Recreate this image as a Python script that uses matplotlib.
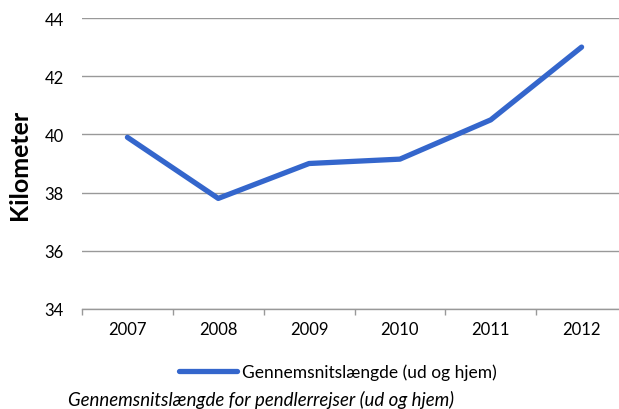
import matplotlib.pyplot as plt
import numpy as np

years = ['2007', '2008', '2009', '2010', '2011', '2012']
km = [39.9, 37.8, 39.0, 39.15, 40.5, 43.0]
yticks = [34, 36, 38, 40, 42, 44]

plt.rcParams['font.family'] = ['Lato', 'DejaVu Sans']

fig = plt.figure(figsize=(6.19, 4.10), dpi=100)
ax = fig.add_axes([82 / 619, 1 - 310 / 410, 545 / 619, 291 / 410])

x = np.arange(len(years))
line, = ax.plot(x, km, color='#3466CC', linewidth=3.8, solid_capstyle='round',
                label='Gennemsnitslængde (ud og hjem)')

ax.set_xlim(-0.5, len(years) - 0.5)
ax.set_ylim(34, 44)
ax.set_yticks(yticks)
ax.set_yticklabels([str(v) for v in yticks], fontsize=12)
ax.set_xticks(x)
ax.set_xticklabels(years, fontsize=12)
ax.set_xticks(np.arange(len(years) + 1) - 0.5, minor=True)
ax.tick_params(axis='x', which='major', length=0, pad=9)
ax.tick_params(axis='x', which='minor', length=4, color='#999999', width=1)
ax.tick_params(axis='y', length=0, pad=13)
ax.grid(axis='y', color='#999999', linewidth=1)
ax.set_axisbelow(True)
for s in ['left', 'right', 'top']:
    ax.spines[s].set_visible(False)
ax.spines['bottom'].set_color('#999999')
ax.spines['bottom'].set_linewidth(1)

ax.set_ylabel('Kilometer', fontsize=18, fontweight='bold', labelpad=10)

fig.legend(handles=[line], loc='center', bbox_to_anchor=(338 / 619, 1 - 373 / 410),
           frameon=False, fontsize=12.5, handlelength=3.3, handletextpad=0.3)

fig.text(68 / 619, 1 - 400 / 410, 'Gennemsnitslængde for pendlerrejser (ud og hjem)',
         fontsize=13.4, style='italic', va='center', ha='left')

fig.savefig('out.png', dpi=100)
